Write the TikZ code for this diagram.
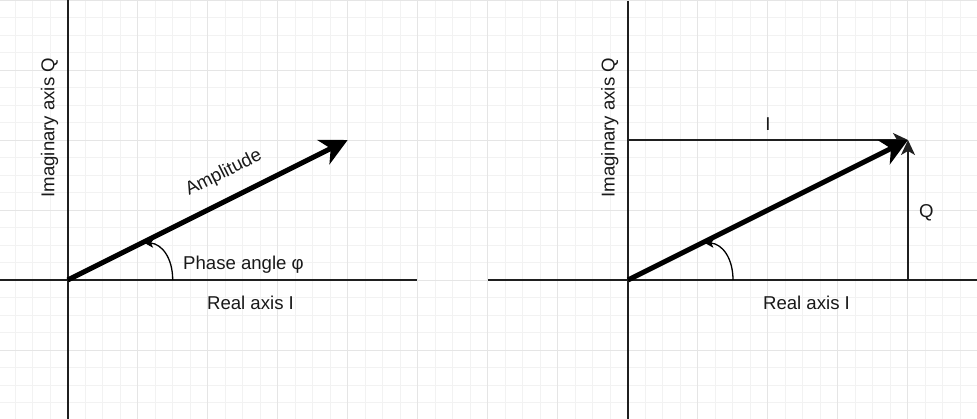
\documentclass[tikz,border=0pt]{standalone}
\usepackage{fontspec}
\setmainfont{Liberation Sans}
\usetikzlibrary{arrows.meta}
\tikzset{
  minorgrid/.style={draw=black!5, line width=0.8pt},
  majorgrid/.style={draw=black!10, line width=0.9pt},
  axisline/.style={draw=black!88, line width=2pt},
  thinvec/.style={draw=black!88, line width=1.6pt, -{Stealth[length=15pt,width=14pt,inset=4pt]}},
  thickvec/.style={draw=black, line width=5pt, -{Stealth[length=27pt,width=27pt,inset=8pt]}},
  arcarrow/.style={draw=black, line width=1.3pt, -{Stealth[length=10pt,width=9pt,inset=2.5pt]}},
  lbl/.style={inner sep=0pt, font=\fontsize{18.6}{22}\selectfont, text=black!90}
}
\begin{document}
\begin{tikzpicture}[x=1pt,y=-1pt]
\useasboundingbox (0,0) rectangle (977,419);
\fill[white] (0,0) rectangle (977,419);
\begin{scope}
\clip (0,0) rectangle (977,419);
% grid
\foreach \i in {-3,...,52} {
  \pgfmathsetmacro\xx{67.7+17.5*\i}
  \draw[minorgrid] (\xx,0) -- (\xx,419);
}
\foreach \j in {-16,...,8} {
  \pgfmathsetmacro\yy{280+17.5*\j}
  \draw[minorgrid] (0,\yy) -- (977,\yy);
}
\foreach \i in {0,...,13} {
  \pgfmathsetmacro\xx{67.7+70*\i}
  \draw[majorgrid] (\xx,0) -- (\xx,419);
}
\foreach \j in {-4,...,2} {
  \pgfmathsetmacro\yy{280+70*\j}
  \draw[majorgrid] (0,\yy) -- (977,\yy);
}
\end{scope}

% ---------- left diagram ----------
\coordinate (O1) at (67.7,280);
\coordinate (V1t) at (67.7,0);
\coordinate (V1b) at (67.7,419);
\coordinate (H1l) at (0,280);
\coordinate (H1r) at (417,280);
\coordinate (T1) at (347.7,140);
\coordinate (A1s) at (172.7,280);
\coordinate (A1e) at (143.5,242.4);

\draw[axisline] (V1t) -- (V1b);
\draw[axisline] (H1l) -- (H1r);
\draw[arcarrow] (A1s) .. controls (172.7,258) and (162,244) .. (A1e);
\draw[thickvec] (O1) -- (T1);

\node[lbl, rotate=90, anchor=base] (imag1) at (54.3,127.7) {Imaginary axis Q};
\node[lbl, anchor=base] (real1) at (250.5,310) {Real axis I};
\node[lbl, anchor=base] (phase1) at (243.5,270) {Phase angle φ};
\node[lbl, rotate=26.57, anchor=base] (amp1) at (226,177.5) {Amplitude};

% ---------- right diagram ----------
\coordinate (O2) at (628,280);
\coordinate (V2t) at (628,1);
\coordinate (V2b) at (628,419);
\coordinate (H2l) at (488,280);
\coordinate (H2r) at (977,280);
\coordinate (T2) at (908,140);
\coordinate (Ia) at (628,140);
\coordinate (Qa) at (908,280);
\coordinate (A2s) at (733,280);
\coordinate (A2e) at (703.8,242.4);

\draw[axisline] (V2t) -- (V2b);
\draw[axisline] (H2l) -- (H2r);
\draw[thinvec] (Ia) -- (T2);
\draw[thinvec] (Qa) -- (T2);
\draw[arcarrow] (A2s) .. controls (733,258) and (722.3,244) .. (A2e);
\draw[thickvec] (O2) -- (T2);

\node[lbl, rotate=90, anchor=base] (imag2) at (614.7,127.7) {Imaginary axis Q};
\node[lbl, anchor=base] (real2) at (806.5,310) {Real axis I};
\node[lbl, anchor=base] (ilbl) at (768,130.7) {I};
\node[lbl, anchor=base] (qlbl) at (926.3,218) {Q};
\end{tikzpicture}
\end{document}
